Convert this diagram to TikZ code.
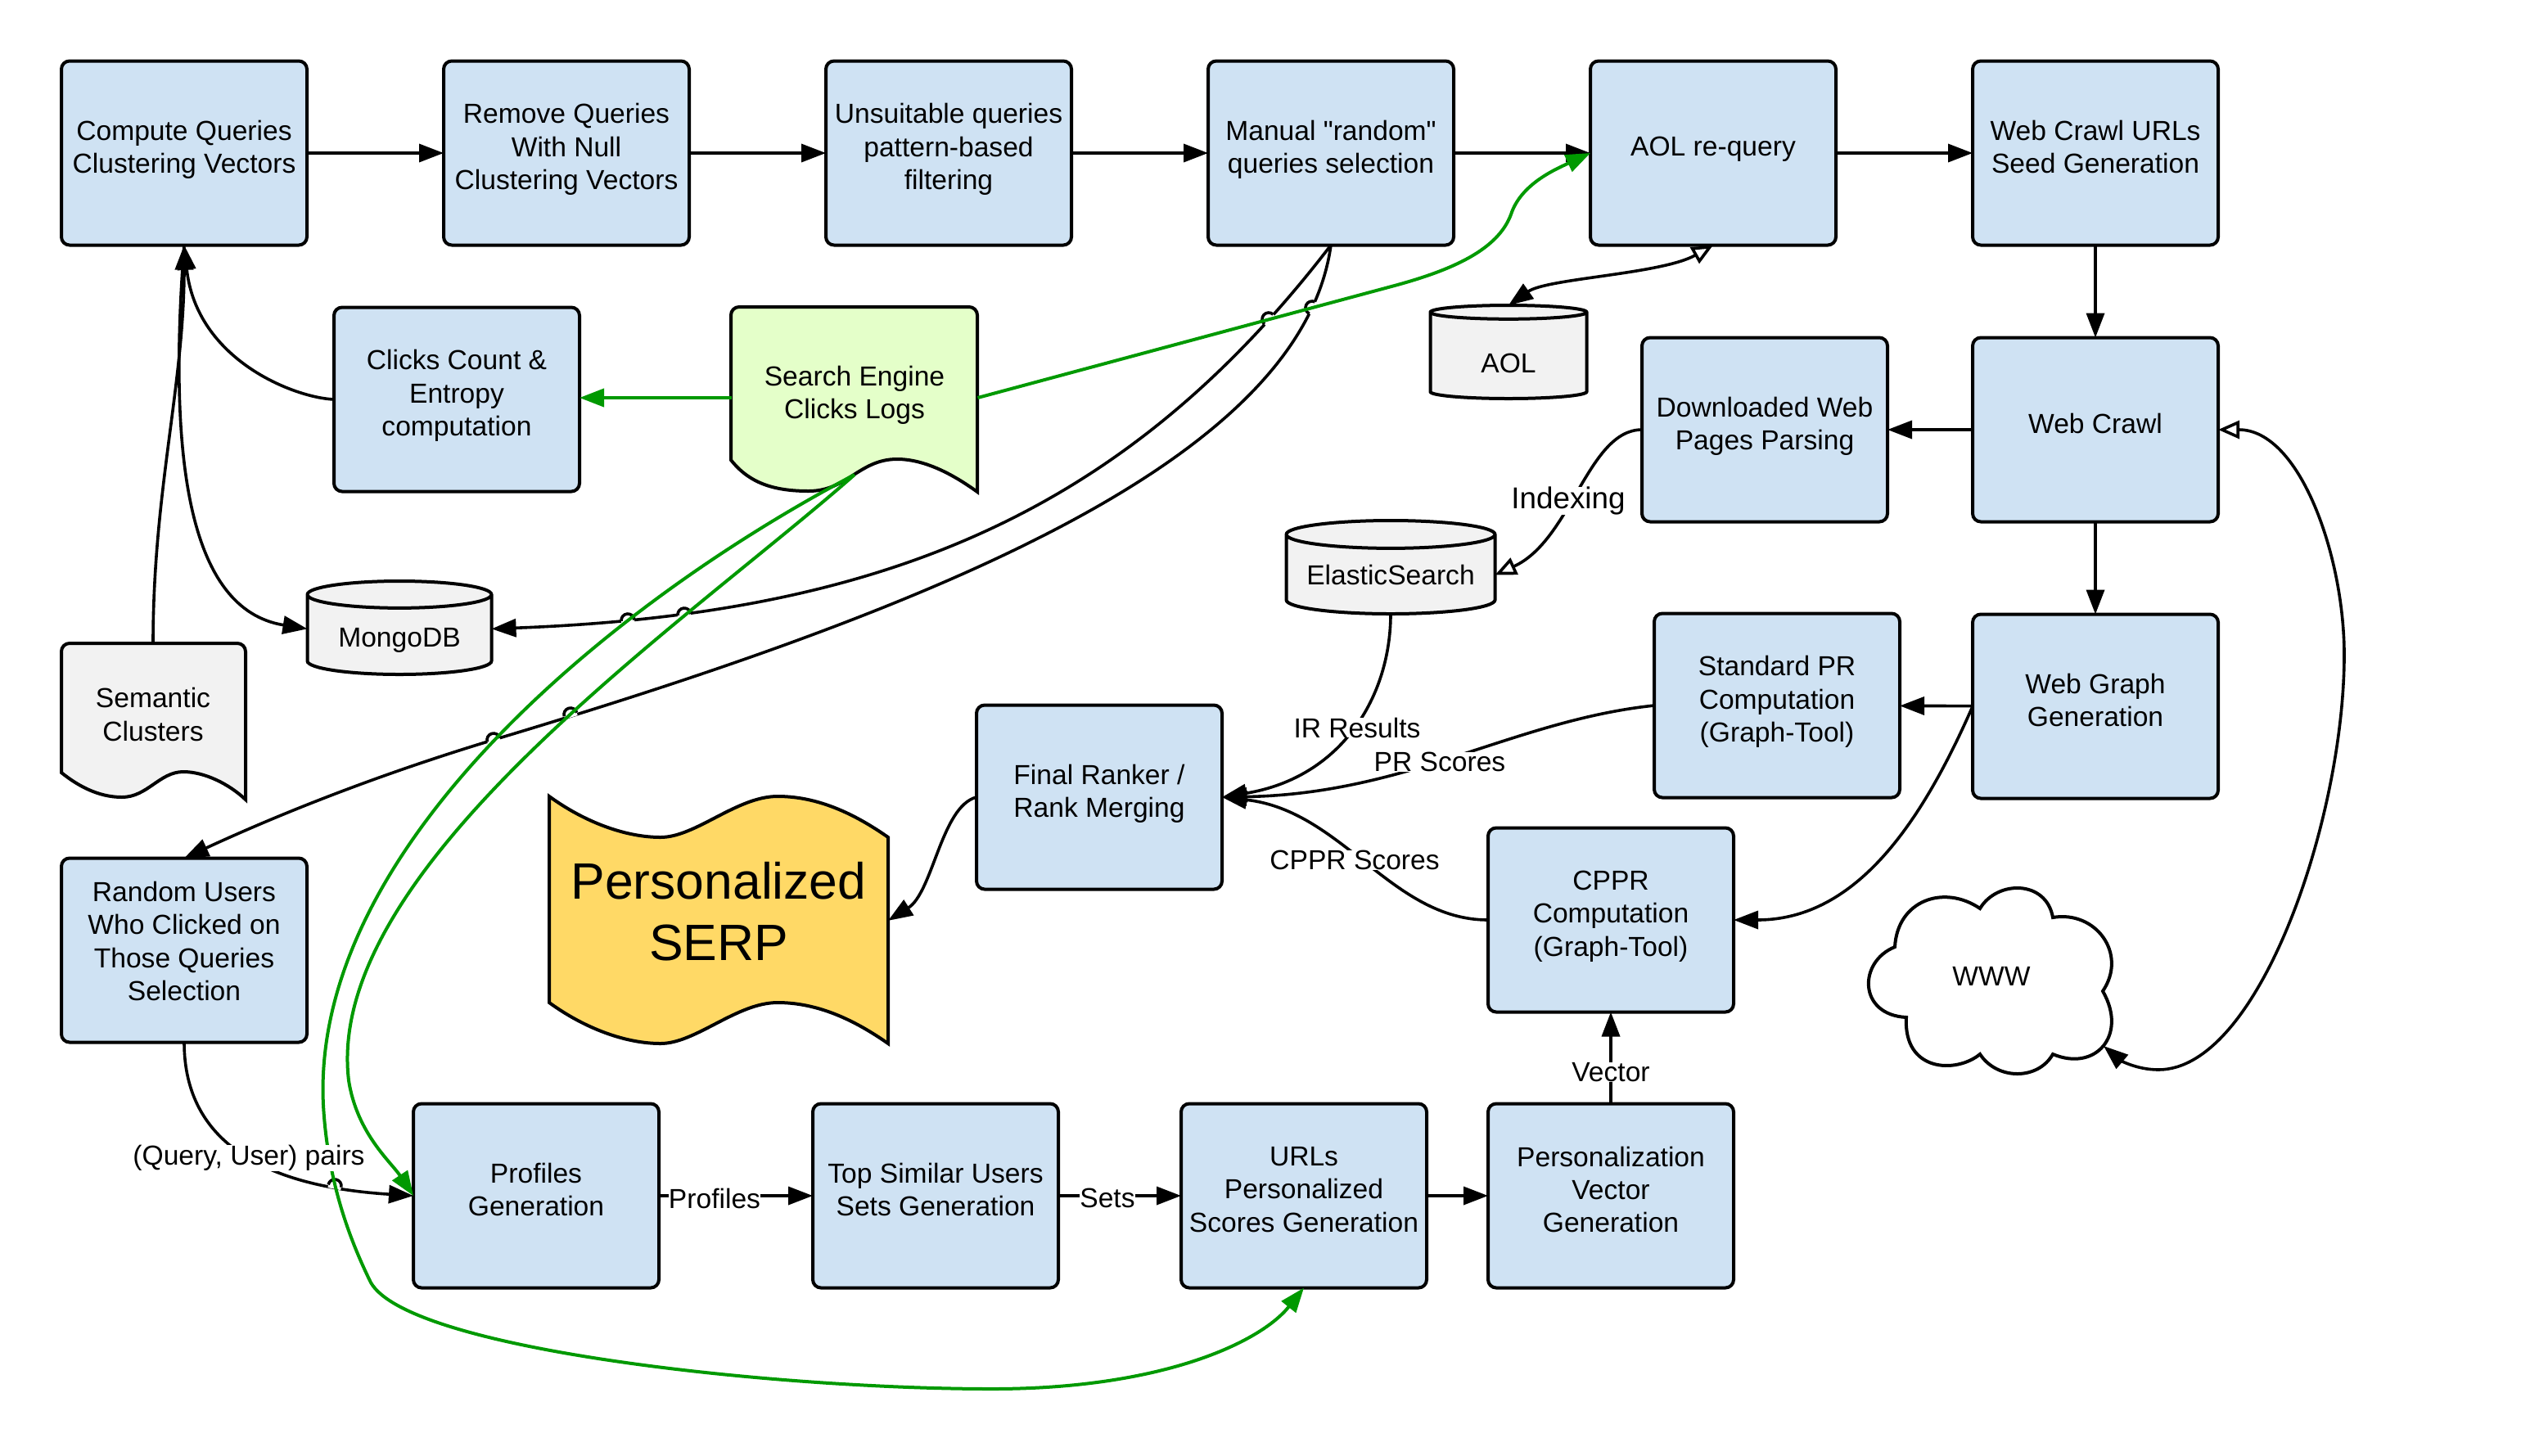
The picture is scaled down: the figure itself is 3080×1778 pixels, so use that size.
\documentclass[tikz,border=0pt]{standalone}
\usepackage{fontspec}
\setmainfont{Liberation Sans}
\newfontfamily\straightq{Liberation Sans}
\usetikzlibrary{arrows.meta,shapes.geometric}
\definecolor{boxblue}{HTML}{CFE2F3}
\definecolor{logsgreen}{HTML}{E4FFC9}
\definecolor{storegray}{HTML}{F2F2F2}
\definecolor{serpyellow}{HTML}{FFD966}
\definecolor{linkgreen}{HTML}{009900}
\tikzset{
  txt/.style={font=\fontsize{8.4}{10.1}\selectfont,align=center,inner sep=0pt,outer sep=0pt},
  stepbox/.style={txt,draw,line width=1pt,fill=boxblue,rounded corners=2.5pt,minimum width=75pt,minimum height=56.25pt,text depth=3.9pt},
  store/.style={txt,cylinder,shape border rotate=90,draw,line width=1pt,fill=storegray,anchor=shape center,minimum height=28.5pt},
  plain/.style={txt},
  lab/.style={txt,fill=white},
  lnk/.style={line width=.9pt,-{Triangle[length=7.5pt,width=5.5pt]}},
  opn/.style={line width=.9pt,-{Triangle[open,fill=white,length=6.5pt,width=5.5pt]}},
  both/.style={line width=.9pt,{Triangle[length=7.5pt,width=5.5pt]}-{Triangle[open,fill=white,length=6.5pt,width=5.5pt]}},
  grn/.style={lnk,line width=1pt,draw=linkgreen,-{Triangle[length=7.5pt,width=5.5pt,fill=linkgreen]}},
  shp/.style={draw,line width=1pt}
}
\newcommand{\hop}[3]{\begin{scope}[shift={(#1,#2)},rotate=#3]
  \draw[white,line width=1.8pt] (-8,0) -- (8,0);
  \draw[line width=.9pt] (-8,0) arc (180:360:8);
\end{scope}}
\begin{document}
\begin{tikzpicture}[x=.25pt,y=-.25pt]
\useasboundingbox (0,0) rectangle (3080,1778);
% drawn shapes under the text nodes
\draw[shp,fill=logsgreen] (893,562) [rounded corners=2.5pt] -- (893,375) -- (1194,375) -- (1194,480) [sharp corners] -- (1194,601)
  .. controls (1165,580) and (1130,561) .. (1096,561) .. controls (1050,561) and (1035,600) .. (988,600)
  .. controls (945,600) and (915,590) .. (893,562) -- cycle;
\draw[shp,fill=storegray] (75,944) [rounded corners=2.5pt] -- (75,786) -- (300,786) -- (300,880) [sharp corners] -- (300,977)
  .. controls (280,958) and (250,943) .. (224,943) .. controls (195,943) and (180,974) .. (149,974)
  .. controls (120,974) and (95,960) .. (75,944) -- cycle;
\draw[shp,fill=serpyellow] (671,973) .. controls (715,1005) and (765,1023) .. (807,1023)
  .. controls (850,1023) and (900,973) .. (950,973) .. controls (1000,973) and (1045,995) .. (1085,1023)
  -- (1085,1275) .. controls (1045,1247) and (1000,1225) .. (950,1225) .. controls (900,1225) and (850,1275) .. (807,1275)
  .. controls (765,1275) and (715,1257) .. (671,1225) -- cycle;
\draw[shp] (2329,1243) .. controls (2270,1240) and (2270,1175) .. (2315,1157)
  .. controls (2318,1100) and (2375,1080) .. (2419,1110) .. controls (2440,1075) and (2500,1075) .. (2508,1121)
  .. controls (2560,1112) and (2600,1165) .. (2569,1211) .. controls (2600,1265) and (2560,1310) .. (2508,1288)
  .. controls (2490,1320) and (2440,1320) .. (2419,1288) .. controls (2390,1312) and (2325,1310) .. (2329,1243) -- cycle;

\node[stepbox] (compute) at (225,187) {Compute Queries\\Clustering Vectors};
\node[stepbox] (remove) at (692,187) {Remove Queries\\With Null\\Clustering Vectors};
\node[stepbox] (unsuitable) at (1159,187) {Unsuitable queries\\pattern-based\\filtering};
\node[stepbox] (manual) at (1626,187) {Manual {\straightq"}random{\straightq"}\\queries selection};
\node[stepbox] (aolquery) at (2093,187) {AOL re-query};
\node[stepbox] (seed) at (2560,187) {Web Crawl URLs\\Seed Generation};
\node[stepbox] (clicks) at (558,488) {Clicks Count \&\\Entropy\\computation};
\node[plain,minimum width=75.25pt,minimum height=47pt,text depth=3.3pt] (logs) at (1044,486) {Search Engine\\Clicks Logs};
\node[store,aspect=.25,minimum width=47.75pt,text height=10pt] (aol) at (1843,430) {AOL};
\node[stepbox] (parsing) at (2156,525) {Downloaded Web\\Pages Parsing};
\node[stepbox] (crawl) at (2560,525) {Web Crawl};
\node[store,aspect=.165,minimum width=63.75pt] (elastic) at (1699,693) {ElasticSearch};
\node[store,aspect=.22,minimum width=56.25pt,text height=9pt] (mongo) at (488,767) {MongoDB};
\node[plain,minimum width=56.25pt,minimum height=44.5pt,text depth=1pt] (semantic) at (187,875) {Semantic\\Clusters};
\node[stepbox] (stdpr) at (2171,862) {Standard PR\\Computation\\(Graph-Tool)};
\node[stepbox] (graph) at (2560,863) {Web Graph\\Generation};
\node[stepbox] (final) at (1343,974) {Final Ranker /\\Rank Merging};
\node[stepbox] (cppr) at (1968,1124) {CPPR\\Computation\\(Graph-Tool)};
\node[plain,font=\fontsize{15.6}{18.7}\selectfont,minimum width=103.5pt,minimum height=40pt] (serp) at (878,1114) {Personalized\\SERP};
\node[plain] (www) at (2433,1193) {WWW};
\node[stepbox,text depth=5.5pt] (random) at (225,1161) {Random Users\\Who Clicked on\\Those Queries\\Selection};
\node[stepbox] (profiles) at (655,1461) {Profiles\\Generation};
\node[stepbox] (similar) at (1143,1461) {Top Similar Users\\Sets Generation};
\node[stepbox] (urls) at (1593,1461) {URLs\\Personalized\\Scores Generation};
\node[stepbox] (vector) at (1968,1461) {Personalization\\Vector\\Generation};
\coordinate (wwwtip) at (2570,1278);

% black connectors
\draw[lnk] (compute) -- (remove);
\draw[lnk] (remove) -- (unsuitable);
\draw[lnk] (unsuitable) -- (manual);
\draw[lnk] (manual) -- (aolquery);
\draw[lnk] (aolquery) -- (seed);
\draw[lnk] (seed) -- (crawl);
\draw[lnk] (crawl) -- (graph);
\draw[lnk] (crawl) -- (parsing);
\draw[lnk] (graph) -- (stdpr);
\draw[lnk] (clicks.west) .. controls (360,486) and (240,440) .. (compute.south);
\draw[lnk] (semantic.north) .. controls (187,600) and (225,470) .. (compute.south);
\draw[lnk] (compute.south) .. controls (205,560) and (230,745) .. (mongo.176);
\draw[lnk] (manual.south) .. controls (1380,620) and (1090,750) .. (mongo.4);
\draw[lnk] (manual.south) .. controls (1590,560) and (1150,740) .. (606,903)
  .. controls (450,950) and (330,1000) .. (random.north);
\draw[lnk] (random.south) .. controls (225,1400) and (330,1450) .. (profiles.west);
\draw[lnk] (profiles) -- (similar);
\draw[lnk] (similar) -- (urls);
\draw[lnk] (urls) -- (vector);
\draw[lnk] (vector) -- (cppr);
\draw[lnk] (final.west) .. controls (1150,985) and (1140,1090) .. (serp.-3);
\draw[lnk] (elastic.south) .. controls (1699,850) and (1640,950) .. (final.east);
\draw[lnk] (stdpr.west) .. controls (1850,880) and (1720,970) .. (final.east);
\draw[lnk] (cppr.west) .. controls (1700,1124) and (1640,990) .. (final.east);
\draw[lnk] (graph.west) .. controls (2350,1000) and (2270,1124) .. (cppr.east);
\draw[opn] (parsing.west) .. controls (1940,525) and (1920,660) .. (elastic.east);
\draw[both] (aol.north) .. controls (1890,340) and (2030,335) .. (aolquery.south);
\draw[both] (wwwtip)
  .. controls (2590,1295) and (2610,1307) .. (2637,1307) .. controls (2760,1307) and (2864,1000) .. (2864,800)
  .. controls (2864,680) and (2810,525) .. (crawl.east);

% line hops
\hop{767}{758}{5}
\hop{836}{751}{6}
\hop{1550}{390}{48}
\hop{1603}{376}{65}
\hop{697}{873}{17}
\hop{603}{904}{17}
\hop{409}{1449}{-11}

% green connectors
\draw[grn] (logs.west) -- (logs.west -| clicks.east);
\draw[grn] (logs.east) -- (1700,350) .. controls (1775,330) and (1830,305) .. (1846,262)
  .. controls (1858,225) and (1900,207) .. (aolquery.west);
\draw[grn] (logs.south) .. controls (840,760) and (395,1060) .. (426,1320)
  .. controls (436,1385) and (478,1420) .. (profiles.west);
\draw[grn] (logs.south) .. controls (740,740) and (380,1040) .. (395,1350)
  .. controls (400,1440) and (425,1510) .. (453,1567)
  .. controls (500,1650) and (950,1697) .. (1212,1697)
  .. controls (1420,1697) and (1540,1640) .. (urls.south);

% connector labels
\node[lab] (lbpairs) at (304,1415) {(Query, User) pairs};
\node[lab] (lbprofiles) at (873,1464) {Profiles};
\node[lab] (lbsets) at (1353,1464) {Sets};
\node[lab] (lbvector) at (1968,1310) {Vector};
\node[lab] (lbir) at (1658,889) {IR Results};
\node[lab] (lbpr) at (1759,931) {PR Scores};
\node[lab] (lbcppr) at (1655,1051) {CPPR Scores};
\node[lab,font=\fontsize{9.2}{11}\selectfont] (lbindex) at (1916,612) {Indexing};
\end{tikzpicture}
\end{document}
